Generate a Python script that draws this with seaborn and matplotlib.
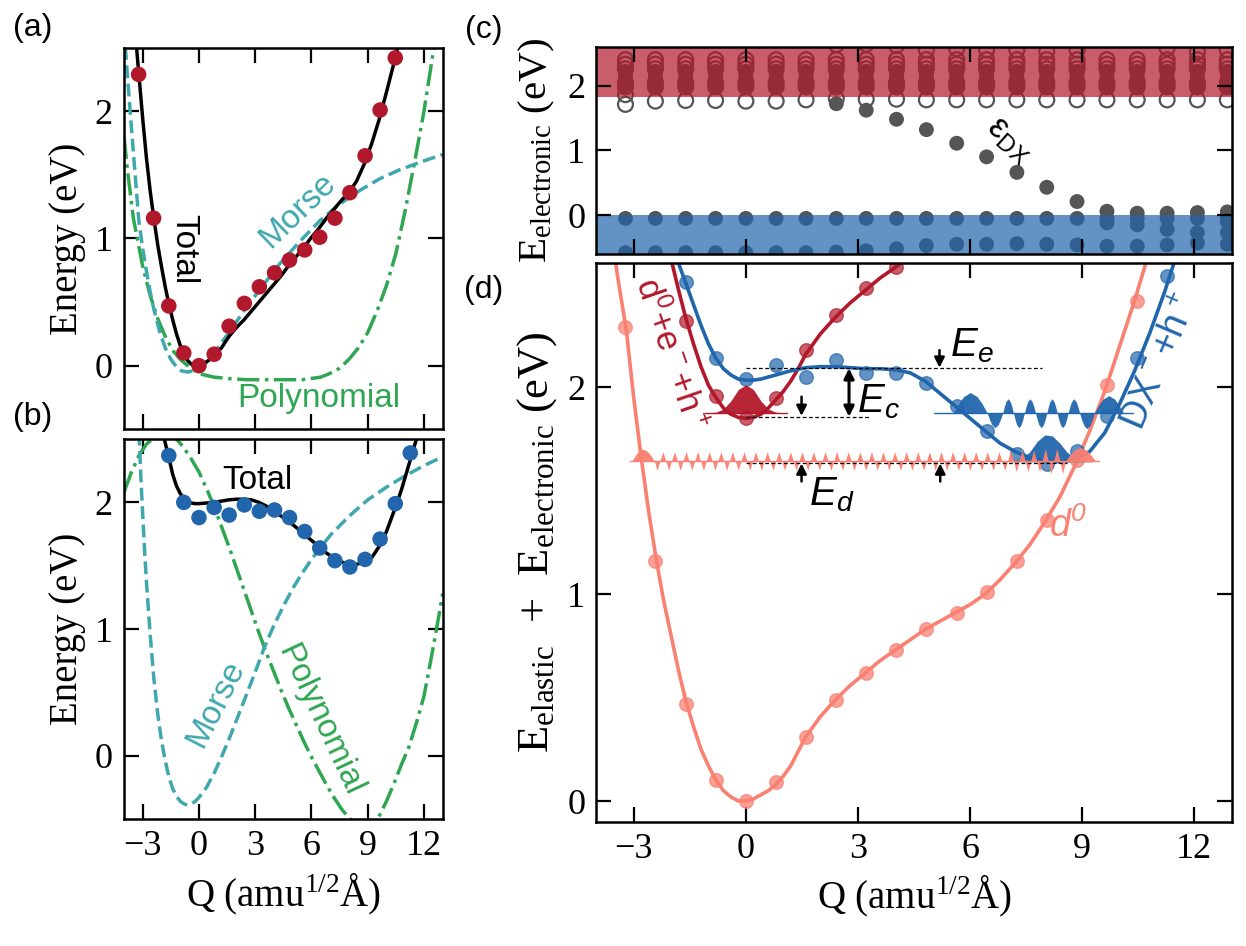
import numpy as np
import pandas as pd
import matplotlib
matplotlib.use("Agg")
import matplotlib.pyplot as plt
import seaborn as sns

sns.set_style("ticks")
plt.rcParams['font.family'] = ['Liberation Serif', 'DejaVu Serif']
plt.rcParams['mathtext.default'] = 'regular'
plt.rcParams['axes.linewidth'] = 1.8
plt.rcParams['axes.edgecolor'] = 'k'
plt.rcParams['axes.labelcolor'] = 'k'
plt.rcParams['text.color'] = 'k'
for k in ['xtick', 'ytick']:
    plt.rcParams[k + '.direction'] = 'in'
    plt.rcParams[k + '.major.size'] = 11
    plt.rcParams[k + '.major.width'] = 1.6
    plt.rcParams[k + '.labelsize'] = 26
    plt.rcParams[k + '.major.pad'] = 8
    plt.rcParams[k + '.color'] = 'k'
    plt.rcParams[k + '.labelcolor'] = 'k'
plt.rcParams['xtick.top'] = True
plt.rcParams['ytick.right'] = True
plt.rcParams['axes.labelsize'] = 28
SANS = ['Liberation Sans', 'DejaVu Sans']

crimson = '#b2182b'
navy = '#2166ac'
salmon = '#fa8072'
teal = '#3fa7ae'
green = '#2fa652'
gray = '#555555'

######## data ########
# configuration coordinate grid (amu^1/2 A)
q_grid = [-3.22, -2.42, -1.61, -0.81, 0.0, 0.81, 1.61, 2.42, 3.22, 4.03, 4.83,
          5.64, 6.44, 7.25, 8.05, 8.86, 9.66, 10.47, 11.27, 12.08, 12.88]

# d0 energies (panel a and d), q_grid[0:18]
e_d0 = [2.29, 1.16, 0.47, 0.10, 0.00, 0.09, 0.31, 0.49, 0.62, 0.73, 0.83, 0.91,
        1.01, 1.16, 1.36, 1.65, 2.01, 2.42]
# DX- energies (panel b), q_grid[2:19]
e_dx_b = [2.37, 2.00, 1.88, 1.96, 1.90, 1.98, 1.93, 1.94, 1.88, 1.77, 1.64, 1.54,
          1.49, 1.55, 1.71, 1.99, 2.39]
# panel d points
e_red_d = [2.32, 1.96, 1.85, 1.95, 2.18, 2.35, 2.48, 2.58]          # q_grid[2:10]
e_blue_d = [2.51, 2.14, 2.04, 2.11, 2.05, 2.13, 2.07, 2.07, 2.02, 1.91, 1.79,
            1.68, 1.63, 1.69, 1.86, 2.14, 2.54]                      # q_grid[2:19]

# fitted curves, panel (a)
a_tot_q = [-3.40, -3.30, -3.20, -3.00, -2.80, -2.60, -2.40, -2.20, -2.00, -1.80, -1.60,
           -1.40, -1.20, -1.00, -0.80, -0.60, -0.40, -0.20, 0.00, 0.20, 0.40, 0.60, 0.80,
           1.00, 1.20, 1.60, 2.00, 2.40, 2.80, 3.20, 3.60, 4.00, 4.40, 4.80, 5.20, 5.60,
           6.00, 6.40, 6.80, 7.20, 7.60, 8.00, 8.40, 8.80, 9.20, 9.60, 10.00, 10.40, 10.80]
a_tot_e = [2.62, 2.45, 2.28, 1.94, 1.63, 1.37, 1.15, 0.95, 0.78, 0.62, 0.48,
           0.36, 0.25, 0.16, 0.09, 0.04, 0.01, 0.00, 0.00, 0.01, 0.03, 0.05, 0.08,
           0.11, 0.14, 0.23, 0.30, 0.36, 0.43, 0.50, 0.57, 0.64, 0.71, 0.79, 0.86, 0.93,
           1.01, 1.08, 1.16, 1.23, 1.30, 1.36, 1.45, 1.58, 1.74, 1.93, 2.15, 2.38, 2.62]
a_morse_q = [-4.0, -3.9, -3.8, -3.67, -3.5, -3.35, -3.2, -3.0, -2.8, -2.6, -2.4, -2.1,
             -1.8, -1.5, -1.2, -0.95, -0.6, -0.3, 0.0, 0.4, 0.8, 1.5, 2.35, 3.25, 4.3,
             5.4, 6.45, 7.5, 8.6, 9.65, 10.7, 11.8, 13.0]
a_morse_e = [2.65, 2.45, 2.25, 2.00, 1.68, 1.40, 1.13, 0.92, 0.74, 0.58, 0.44, 0.27,
             0.14, 0.05, -0.01, -0.04, -0.05, -0.04, -0.02, 0.03, 0.10, 0.24, 0.42, 0.60,
             0.80, 0.98, 1.14, 1.27, 1.38, 1.47, 1.54, 1.60, 1.66]
a_poly_q = [-4.0, -3.8, -3.5, -3.2, -3.0, -2.6, -2.2, -1.8, -1.4, -1.0, -0.6, -0.2, 0.2,
            0.8, 1.5, 2.5, 3.5, 4.5, 5.5, 6.0, 6.5, 7.0, 7.5, 8.0, 8.5, 9.0, 9.5, 10.0,
            10.5, 11.0, 11.5, 12.0, 12.5, 12.6]
a_poly_e = [1.80, 1.52, 1.16, 0.93, 0.78, 0.55, 0.37, 0.23, 0.12, 0.05, 0.00, -0.04, -0.07,
            -0.09, -0.10, -0.11, -0.11, -0.11, -0.11, -0.10, -0.09, -0.06, -0.02, 0.05, 0.14,
            0.26, 0.43, 0.63, 0.88, 1.22, 1.60, 2.00, 2.47, 2.58]

# fitted curves, panel (b)
b_tot_q = [-1.85, -1.60, -1.40, -1.20, -1.00, -0.80, -0.60, -0.40, -0.20, 0.00, 0.40, 0.80,
           1.20, 1.60, 2.00, 2.40, 2.80, 3.20, 3.60, 4.00, 4.40, 4.80, 5.20, 5.60, 6.00,
           6.40, 6.80, 7.20, 7.60, 8.00, 8.40, 8.80, 9.20, 9.60, 10.00, 10.40, 10.80,
           11.20, 11.60]
b_tot_e = [2.50, 2.35, 2.22, 2.13, 2.07, 2.03, 2.005, 1.995, 1.99, 1.99, 1.995, 2.00,
           2.01, 2.02, 2.025, 2.025, 2.02, 2.00, 1.97, 1.93, 1.89, 1.85, 1.80, 1.75, 1.70,
           1.65, 1.60, 1.56, 1.53, 1.51, 1.51, 1.53, 1.56, 1.65, 1.77, 1.93, 2.10,
           2.30, 2.50]
b_morse_q = [-3.20, -3.10, -3.00, -2.90, -2.80, -2.60, -2.40, -2.20, -2.00, -1.80, -1.60,
             -1.40, -1.20, -1.00, -0.80, -0.60, -0.40, -0.20, 0.00, 0.40, 0.80, 1.20, 1.60,
             2.00, 2.50, 3.00, 3.50, 4.00, 4.50, 5.00, 5.50, 6.00, 7.00, 8.00, 9.00, 10.00,
             11.00, 12.00, 13.00]
b_morse_e = [2.55, 2.20, 1.90, 1.62, 1.37, 0.95, 0.60, 0.33, 0.12, -0.04, -0.17,
             -0.26, -0.32, -0.36, -0.38, -0.39, -0.38, -0.36, -0.33, -0.25, -0.14, -0.01, 0.13,
             0.28, 0.47, 0.66, 0.86, 1.03, 1.18, 1.32, 1.44, 1.55, 1.74, 1.89, 2.02, 2.12,
             2.21, 2.29, 2.36]
b_poly_q = [-4.0, -3.6, -3.2, -2.8, -2.4, -2.0, -1.6, -1.2, -0.8, -0.4, 0.0, 0.4, 0.8, 1.2,
            1.6, 2.0, 2.4, 2.8, 3.2, 3.6, 4.0, 4.4, 4.8, 5.2, 5.6, 6.0, 6.4, 6.8, 7.2, 7.6,
            8.0, 8.4, 8.8, 9.2, 9.6, 10.0, 10.4, 10.8, 11.2, 11.6, 12.0, 12.4, 12.8, 13.0]
b_poly_e = [2.08, 2.24, 2.37, 2.46, 2.51, 2.53, 2.53, 2.50, 2.43, 2.34, 2.24, 2.11, 1.97,
            1.81, 1.65, 1.48, 1.31, 1.14, 0.97, 0.81, 0.66, 0.51, 0.37, 0.24, 0.11, -0.01,
            -0.12, -0.23, -0.33, -0.42, -0.49, -0.54, -0.57, -0.55, -0.48, -0.36, -0.22,
            -0.07, 0.07, 0.26, 0.47, 0.78, 1.11, 1.28]

# panel (c): single-particle levels
c_open_row = [1.71, 1.76, 1.77, 1.77, 1.76, 1.76, 1.78, 1.80, 1.79, 1.79, 1.78, 1.78,
              1.78, 1.78, 1.78, 1.78, 1.78, 1.78, 1.78, 1.78, 1.78]
cb_open_levels = [2.40, 2.33, 2.26, 2.05, 1.98]
cb_filled_levels = [2.22, 2.15, 2.08, 2.00]
cb_high = [np.nan] * 7 + [2.63, 2.64, 2.62, 2.55, 2.57, 2.55, 2.55, 2.53, 2.55,
                          np.nan, np.nan, 2.58, 2.52, 2.55]
eps_dx = [1.72, 1.62, 1.48, 1.32, 1.11, 0.90, 0.66, 0.43, 0.21, 0.06, 0.03, 0.03,
          0.04, 0.05]                                               # q_grid[7:]
vb_row1 = [-0.05] * 21
vb_row2 = [-0.58, -0.58, -0.58, -0.58, -0.58, -0.58, -0.58, -0.57, -0.55, -0.52, -0.47,
           -0.45, -0.45, -0.44, -0.45, -0.46, -0.48, -0.48, -0.46, -0.43, -0.45]
vb_extra_q = [9.66, 10.47, 11.27, 12.08, 12.88, 12.88]
vb_extra_e = [-0.12, -0.15, -0.22, -0.27, -0.27, -0.10]

# panel (d): fitted curves
d_d0_q = [-3.50, -3.40, -3.20, -3.00, -2.80, -2.60, -2.40, -2.20, -2.00, -1.80, -1.60,
          -1.40, -1.20, -1.00, -0.80, -0.60, -0.40, -0.20, 0.00, 0.20, 0.40, 0.60, 0.80,
          1.00, 1.20, 1.40, 1.60, 2.00, 2.40, 2.80, 3.20, 3.60, 4.00, 4.40, 4.80, 5.20,
          5.60, 6.00, 6.40, 6.80, 7.20, 7.60, 8.00, 8.40, 8.80, 9.20, 9.60, 10.00, 10.40,
          10.80]
d_d0_e = [2.62, 2.50, 2.28, 1.95, 1.66, 1.40, 1.17, 0.97, 0.80, 0.63, 0.48,
          0.36, 0.25, 0.17, 0.10, 0.05, 0.02, 0.00, 0.00, 0.01, 0.03, 0.05, 0.08,
          0.12, 0.17, 0.24, 0.31, 0.41, 0.49, 0.56, 0.62, 0.68, 0.73, 0.78, 0.83, 0.87,
          0.91, 0.95, 1.00, 1.07, 1.15, 1.24, 1.35, 1.47, 1.62, 1.79, 1.98, 2.20, 2.42,
          2.66]
d_red_q = [-2.00, -1.80, -1.60, -1.40, -1.20, -1.00, -0.80, -0.60, -0.40, -0.20, 0.00,
           0.20, 0.40, 0.60, 0.80, 1.00, 1.20, 1.40, 1.60, 2.00, 2.40, 2.80, 3.20, 3.60,
           4.00, 4.20]
d_red_e = [2.62, 2.47, 2.33, 2.21, 2.10, 2.01, 1.95, 1.90, 1.87, 1.855, 1.85,
           1.855, 1.87, 1.90, 1.94, 1.98, 2.03, 2.09, 2.16, 2.26, 2.34, 2.41, 2.47, 2.53,
           2.58, 2.61]
d_blue_q = [-1.80, -1.60, -1.40, -1.20, -1.00, -0.80, -0.60, -0.40, -0.20, 0.00, 0.20,
            0.40, 0.80, 1.20, 1.60, 2.00, 2.40, 2.80, 3.20, 3.60, 4.00, 4.40, 4.80, 5.20,
            5.60, 6.00, 6.40, 6.80, 7.20, 7.60, 8.00, 8.40, 8.80, 9.20, 9.60, 10.00, 10.40,
            10.80, 11.20, 11.45]
d_blue_e = [2.60, 2.50, 2.40, 2.30, 2.21, 2.14, 2.09, 2.06, 2.04, 2.035, 2.035,
            2.04, 2.06, 2.08, 2.095, 2.10, 2.10, 2.095, 2.09, 2.09, 2.085, 2.07, 2.03, 1.97,
            1.91, 1.85, 1.79, 1.73, 1.69, 1.66, 1.645, 1.64, 1.65, 1.69, 1.78, 1.92, 2.08,
            2.26, 2.46, 2.60]

# vibrational wavefunctions (panel d)
red_wf_base = 1.875
red_wf_q = [-1.10, -0.80, -0.60, -0.40, -0.20, 0.00, 0.20, 0.40, 0.60, 0.80, 1.10]
red_wf_h = [0.0, 0.005, 0.02, 0.06, 0.115, 0.137, 0.115, 0.06, 0.02, 0.005, 0.0]
blue_gs_base = 1.64
blue_gs_q = [7.05, 7.40, 7.60, 7.80, 8.00, 8.20, 8.40, 8.60, 8.90, 9.30]
blue_gs_h = [0.0, 0.015, 0.05, 0.10, 0.13, 0.125, 0.09, 0.045, 0.01, 0.0]
blue_ex_base = 1.875
blue_ex_span = [5.02, 10.36]
blue_ex_start = [5.55, 6.46, 6.87, 7.16, 7.45, 7.75, 8.05, 8.33, 8.62, 8.93, 9.32]
blue_ex_end = [6.46, 6.87, 7.16, 7.45, 7.75, 8.05, 8.33, 8.62, 8.93, 9.32, 10.10]
blue_ex_amp = [0.10, -0.07, 0.07, -0.07, 0.07, -0.07, 0.07, -0.07, 0.07, -0.075, 0.085]
sal_base = 1.644
sal_span = [-3.10, 9.45]
sal_zero = [-2.45, -2.30, -2.14, -1.99, -1.83, -1.68, -1.52, -1.37, -1.21, -1.06, -0.90,
            -0.75, -0.59, -0.44, -0.28, -0.13, 0.03, 0.18, 0.34, 0.49, 0.65, 0.80, 0.96,
            1.11, 1.27, 1.42, 1.58, 1.73, 1.89, 2.04, 2.20, 2.35, 2.51, 2.66, 2.82, 2.97,
            3.13, 3.28, 3.44, 3.59, 3.75, 3.90, 4.06, 4.21, 4.37, 4.52, 4.68, 4.83, 4.99,
            5.14, 5.30, 5.45, 5.61, 5.76, 5.92, 6.07, 6.23, 6.38, 6.54, 6.69, 6.85, 7.00,
            7.16, 7.31, 7.47, 7.62, 7.78, 7.93, 8.09, 8.24, 8.40, 8.55]
sal_amp_steps = [(-9.0, 0.045), (7.0, 0.052), (7.9, 0.062)]
sal_first = (-3.05, -2.45, 0.058)
sal_last = (8.55, 9.35, 0.066)


def lobes(starts, ends, amps, prof_t, prof_h):
    qs, hs = [], []
    for s, e, a in zip(starts, ends, amps):
        for t, h in zip(prof_t, prof_h):
            qs.append(s + (e - s) * t)
            hs.append(a * h)
    return np.array(qs), np.array(hs)


ROUND_T = [0, 0.15, 0.3, 0.5, 0.7, 0.85, 1]
ROUND_H = [0, 0.45, 0.8, 1, 0.8, 0.45, 0]

fig = plt.figure(figsize=(12.46, 9.46), dpi=100)
ax_a = fig.add_axes([0.0995, 0.5462, 0.2558, 0.4034])
ax_b = fig.add_axes([0.0995, 0.1342, 0.2558, 0.4017])
ax_c = fig.add_axes([0.4786, 0.7315, 0.5100, 0.2191])
ax_d = fig.add_axes([0.4786, 0.1314, 0.5100, 0.5903])

###### (a) ######
sns.lineplot(x=a_poly_q, y=a_poly_e, ax=ax_a, color=green, lw=2.5, linestyle='-.', sort=False)
sns.lineplot(x=a_morse_q, y=a_morse_e, ax=ax_a, color=teal, lw=2.5, linestyle='--', sort=False)
sns.lineplot(x=a_tot_q, y=a_tot_e, ax=ax_a, color='k', lw=2.5, sort=False)
sns.scatterplot(x=q_grid[:18], y=e_d0, ax=ax_a, color=crimson, s=125, edgecolor='none',
                zorder=3, legend=False)
ax_a.text(-0.8, 0.92, 'Total', rotation=-90, family=SANS, fontsize=24,
          ha='center', va='center', rotation_mode='anchor')
ax_a.text(5.26, 1.22, 'Morse', rotation=44, family=SANS, fontsize=24, color=teal,
          ha='center', va='center', rotation_mode='anchor')
ax_a.text(6.38, -0.26, 'Polynomial', family=SANS, fontsize=24, color=green,
          ha='center', va='center')

###### (b) ######
sns.lineplot(x=b_poly_q, y=b_poly_e, ax=ax_b, color=green, lw=2.5, linestyle='-.', sort=False)
sns.lineplot(x=b_morse_q, y=b_morse_e, ax=ax_b, color=teal, lw=2.5, linestyle='--', sort=False)
sns.lineplot(x=b_tot_q, y=b_tot_e, ax=ax_b, color='k', lw=2.5, sort=False)
sns.scatterplot(x=q_grid[2:19], y=e_dx_b, ax=ax_b, color=navy, s=125, edgecolor='none',
                zorder=3, legend=False)
ax_b.text(3.12, 2.17, 'Total', family=SANS, fontsize=24, ha='center', va='center')
ax_b.text(0.9, 0.41, 'Morse', rotation=63, family=SANS, fontsize=24, color=teal,
          ha='center', va='center', rotation_mode='anchor')
ax_b.text(6.42, 0.28, 'Polynomial', rotation=-65, family=SANS, fontsize=24, color=green,
          ha='center', va='center', rotation_mode='anchor')

for ax in (ax_a, ax_b):
    ax.set(xlim=(-4, 13), ylim=(-0.5, 2.5), xticks=[-3, 0, 3, 6, 9, 12], yticks=[0, 1, 2])
    ax.set_ylabel('Energy (eV)', labelpad=6)
ax_a.tick_params(labelbottom=False)
ax_b.set_xlabel('Q (amu$^{1/2}$Å)', labelpad=6)

###### (c) ######
cb_open = pd.DataFrame([(q, e) for q in q_grid for e in cb_open_levels], columns=['q', 'e'])
cb_fill = pd.DataFrame([(q, e) for q in q_grid for e in cb_filled_levels], columns=['q', 'e'])
opens = pd.DataFrame({'q': q_grid + q_grid + [q_grid[0]],
                      'e': c_open_row + cb_high + [1.86]}).dropna()
opens = pd.concat([opens, cb_open])
filled = pd.DataFrame({'q': q_grid[7:] + q_grid + q_grid + vb_extra_q,
                       'e': eps_dx + vb_row1 + vb_row2 + vb_extra_e})
filled = pd.concat([filled, cb_fill])
sns.scatterplot(data=opens, x='q', y='e', ax=ax_c, facecolors='none', edgecolor=gray,
                linewidth=1.6, s=115, zorder=1.2, legend=False)
sns.scatterplot(data=filled, x='q', y='e', ax=ax_c, color=gray, edgecolor='none',
                s=115, zorder=1.2, legend=False)
ax_c.axhspan(1.82, 3.0, color=crimson, alpha=0.7, lw=0, zorder=1.8)
ax_c.axhspan(-1.0, 0.0, color=navy, alpha=0.7, lw=0, zorder=1.8)
ax_c.set_axisbelow(False)
ax_c.text(7.07, 1.165, 'ε$_{DX}$', rotation=-42, family=SANS, fontsize=25,
          ha='center', va='center', rotation_mode='anchor')
ax_c.set(xlim=(-4, 13), ylim=(-0.6, 2.6), xticks=[-3, 0, 3, 6, 9, 12], yticks=[0, 1, 2],
         xlabel='', ylabel='')
ax_c.set_ylabel('E$_{electronic}$ (eV)', fontsize=29.5, labelpad=7)
ax_c.tick_params(labelbottom=False)

###### (d) ######
sns.lineplot(x=d_d0_q, y=d_d0_e, ax=ax_d, color=salmon, lw=2.6, sort=False)
sns.lineplot(x=d_red_q, y=d_red_e, ax=ax_d, color=crimson, lw=2.6, sort=False)
sns.lineplot(x=d_blue_q, y=d_blue_e, ax=ax_d, color=navy, lw=2.6, sort=False)
sns.scatterplot(x=q_grid[:18], y=e_d0, ax=ax_d, color=salmon, s=95, alpha=0.75,
                edgecolor=salmon, linewidth=1, zorder=2.3, legend=False)
sns.scatterplot(x=q_grid[2:10], y=e_red_d, ax=ax_d, color=crimson, s=95, alpha=0.7,
                edgecolor=crimson, linewidth=1, zorder=2.3, legend=False)
sns.scatterplot(x=q_grid[2:19], y=e_blue_d, ax=ax_d, color=navy, s=95, alpha=0.7,
                edgecolor=navy, linewidth=1, zorder=2.3, legend=False)

# wavefunctions
ax_d.plot(red_wf_q[::len(red_wf_q) - 1], [red_wf_base] * 2, color=crimson, lw=1, zorder=3)
ax_d.fill_between(red_wf_q, red_wf_base, red_wf_base + np.array(red_wf_h), color=crimson,
                  lw=0, alpha=0.95, zorder=3)
ax_d.plot(blue_ex_span, [blue_ex_base] * 2, color=navy, lw=1, zorder=3)
bq, bh = lobes(blue_ex_start, blue_ex_end, blue_ex_amp, ROUND_T, ROUND_H)
ax_d.fill_between(bq, blue_ex_base, blue_ex_base + bh, color=navy, lw=0, alpha=0.95, zorder=3)
ax_d.fill_between(blue_gs_q, blue_gs_base, blue_gs_base + np.array(blue_gs_h), color=navy,
                  lw=0, alpha=0.95, zorder=3)
sal_amps = []
for i, (s, e) in enumerate(zip(sal_zero[:-1], sal_zero[1:])):
    a = [v for lim, v in sal_amp_steps if (s + e) / 2 >= lim][-1]
    sal_amps.append(-a if i % 2 == 0 else a)
sq, sh = lobes(sal_zero[:-1], sal_zero[1:], sal_amps, [0, 0.5, 1], [0, 1, 0])
fq, fh = lobes([sal_first[0]], [sal_first[1]], [sal_first[2]], ROUND_T, ROUND_H)
lq, lh = lobes([sal_last[0]], [sal_last[1]], [sal_last[2]], ROUND_T, ROUND_H)
ax_d.plot(sal_span, [sal_base] * 2, color=salmon, lw=1, zorder=3.1)
ax_d.fill_between(np.concatenate([fq, sq, lq]), sal_base,
                  sal_base + np.concatenate([fh, sh, lh]), color=salmon, lw=0,
                  alpha=0.95, zorder=3.1)

# reference levels and arrows
dash = (0, (3, 2))
ax_d.hlines(2.092, 0.0, 7.91, color='k', lw=0.9, linestyles=dash, zorder=4)
ax_d.hlines(1.858, 0.0, 3.36, color='k', lw=0.9, linestyles=dash, zorder=4)
ax_d.hlines(1.634, 0.0, 8.58, color='k', lw=0.9, linestyles=dash, zorder=4)
arr = dict(arrowstyle='-|>', color='k', lw=1.8, mutation_scale=15, shrinkA=0, shrinkB=0)
ax_d.annotate('', xy=(2.76, 2.092), xytext=(2.76, 1.858), zorder=4,
              arrowprops=dict(arr, arrowstyle='<|-|>', lw=2.2))
ax_d.annotate('', xy=(1.49, 1.862), xytext=(1.49, 1.955), arrowprops=arr, zorder=4)
ax_d.annotate('', xy=(5.18, 2.095), xytext=(5.18, 2.18), arrowprops=arr, zorder=4)
ax_d.annotate('', xy=(1.49, 1.632), xytext=(1.49, 1.545), arrowprops=arr, zorder=4)
ax_d.annotate('', xy=(5.2, 1.632), xytext=(5.2, 1.545), arrowprops=arr, zorder=4)
ax_d.text(3.55, 1.93, '$E_c$', family=SANS, style='italic', fontsize=29,
          ha='center', va='center')
ax_d.text(6.05, 2.2, '$E_e$', family=SANS, style='italic', fontsize=29,
          ha='center', va='center')
ax_d.text(2.3, 1.48, '$E_d$', family=SANS, style='italic', fontsize=29,
          ha='center', va='center')
ax_d.text(-2.02, 2.16, 'd$^0$+e$^-$+h$^+$', rotation=-71, family=SANS, fontsize=25,
          color=crimson, ha='center', va='center', rotation_mode='anchor')
ax_d.text(11.1, 2.12, 'DX$^-$+h$^+$', rotation=67, family=SANS, fontsize=27,
          color=navy, ha='center', va='center', rotation_mode='anchor')
ax_d.text(8.6, 1.33, '$d^0$', family=SANS, style='italic', fontsize=27, color=salmon,
          ha='center', va='center')
ax_d.set(xlim=(-4, 13), ylim=(-0.1, 2.6), xticks=[-3, 0, 3, 6, 9, 12], yticks=[0, 1, 2])
ax_d.set_xlabel('Q (amu$^{1/2}$Å)', labelpad=6)
ax_d.set_ylabel('E$_{elastic}$  +  E$_{electronic}$ (eV)', fontsize=32, labelpad=6)

for lab, x, y in [('(a)', 0.026, 0.970), ('(b)', 0.026, 0.559),
                  ('(c)', 0.388, 0.968), ('(d)', 0.388, 0.693)]:
    fig.text(x, y, lab, family=SANS, fontsize=23, ha='center', va='center')

fig.savefig('out.png', dpi=100)
